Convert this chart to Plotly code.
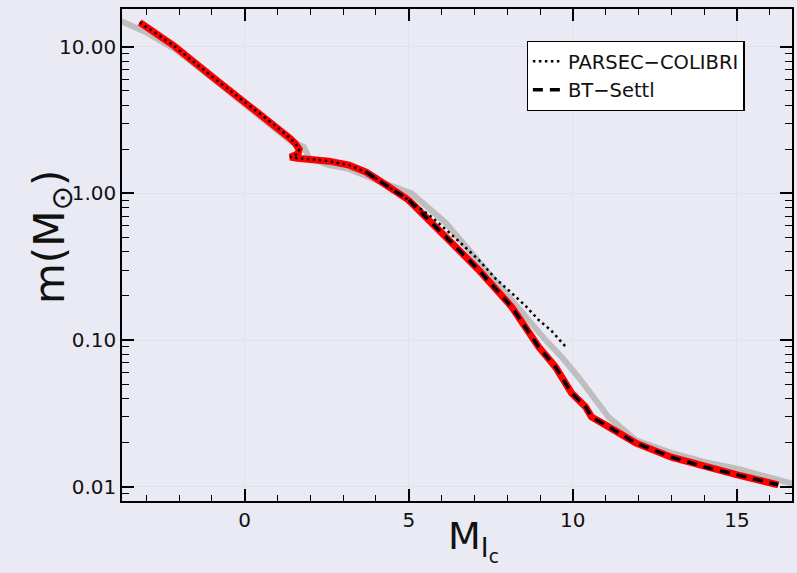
import plotly.graph_objects as go

# ---- data ----
# PARSEC-COLIBRI isochrone: absolute I_c magnitude vs mass (Msun)
parsec_mag = [-3.20, -2.14, -1.01, 0.14, 0.99, 1.39, 1.54, 1.66, 1.63, 1.39, 1.60, 2.02,
              2.57, 3.18, 3.70, 4.09, 5.00, 5.70, 6.45, 7.13, 7.65, 8.14, 8.56, 8.96, 9.35, 9.79]
parsec_mass = [14.7, 10.1, 6.3, 4.0, 2.83, 2.37, 2.19, 2.0, 1.87, 1.77, 1.74, 1.71,
               1.66, 1.56, 1.40, 1.23, 0.90, 0.69, 0.49, 0.352, 0.262, 0.209, 0.171, 0.137, 0.1156, 0.0897]

# BT-Settl isochrone
bt_mag = [3.70, 4.09, 5.00, 6.13, 7.13, 8.14, 8.75, 8.96, 9.47, 9.96, 10.39, 10.57,
          10.99, 11.91, 13.00, 14.04, 15.04, 16.26]
bt_mass = [1.40, 1.23, 0.90, 0.505, 0.301, 0.168, 0.105, 0.0897, 0.0656, 0.0436, 0.035, 0.0299,
           0.0264, 0.0199, 0.0159, 0.0136, 0.0120, 0.0103]

# grey comparison relation
ref_mag = [-4.00, -3.74, -2.96, -2.08, -1.01, 0.14, 1.36, 1.81, 1.96, 2.57, 3.18, 4.18, 5.09,
           6.13, 7.13, 8.14, 9.17, 9.66, 10.17, 10.69, 11.08, 11.91, 13.00, 14.04, 15.04, 16.68, 17.10]
ref_mass = [15.7, 14.9, 12.4, 9.5, 6.2, 3.87, 2.31, 2.07, 1.74, 1.56, 1.47, 1.19, 1.00,
            0.63, 0.35, 0.187, 0.100, 0.0766, 0.056, 0.039, 0.030, 0.0208, 0.0170, 0.0147, 0.0132, 0.0105, 0.0100]

# adopted (red) relation: PARSEC above the BT-Settl limit, BT-Settl below
bt_limit = bt_mag[0]
adopt_mag = [m for m in parsec_mag if m < bt_limit] + bt_mag
adopt_mass = [parsec_mass[i] for i, m in enumerate(parsec_mag) if m < bt_limit] + bt_mass

x_ticks = [0, 5, 10, 15]
x_minor = [v for v in range(-3, 17) if v % 5 != 0]
y_ticks = [0.01, 0.1, 1, 10]
y_ticktext = ["0.01", "0.10", "1.00", "10.00"]
y_minor = [d * k for d in (0.001, 0.01, 0.1, 1, 10) for k in range(2, 10)]

FONT = "DejaVu Sans"
BG = "#EAEAF5"
GRID = "#E1E1E8"

fig = go.Figure()
fig.add_trace(go.Scatter(x=ref_mag, y=ref_mass, mode="lines", showlegend=False,
                         line=dict(color="#BEBEBE", width=6)))
fig.add_trace(go.Scatter(x=adopt_mag, y=adopt_mass, mode="lines", showlegend=False,
                         line=dict(color="#FF0000", width=7)))
fig.add_trace(go.Scatter(x=parsec_mag, y=parsec_mass, mode="lines", name="PARSEC\u2212COLIBRI",
                         line=dict(color="black", width=2.5, dash="2.5px,3.5px")))
fig.add_trace(go.Scatter(x=bt_mag, y=bt_mass, mode="lines", name="BT\u2212Settl",
                         line=dict(color="black", width=3.5, dash="10px,7px")))

axis_common = dict(showline=True, linecolor="black", linewidth=1.6, mirror="ticks",
                   ticks="inside", tickwidth=1.5,
                   showgrid=True, gridcolor=GRID, gridwidth=1, zeroline=False,
                   tickfont=dict(family=FONT, size=20, color="#111111"))

fig.update_xaxes(range=[-3.74, 16.68], tickmode="array", tickvals=x_ticks, ticklen=12,
                 tickcolor="black",
                 minor=dict(tickmode="array", tickvals=x_minor, ticks="inside", ticklen=6,
                            tickcolor="black", tickwidth=1.3),
                 **axis_common)
fig.update_yaxes(type="log", range=[-2.0975, 1.258], tickmode="array", tickvals=y_ticks,
                 ticktext=y_ticktext, ticklen=12, tickcolor="black",
                 minor=dict(tickmode="array", tickvals=y_minor, ticks="inside", ticklen=7,
                            tickcolor="black", tickwidth=1.3),
                 **axis_common)

fig.update_layout(
    width=797, height=573,
    margin=dict(l=122, r=3, t=9, b=72),
    paper_bgcolor=BG, plot_bgcolor=BG,
    font=dict(family=FONT, color="#111111"),
    legend=dict(x=0.604, y=0.935, xanchor="left", yanchor="top",
                bgcolor="white", bordercolor="black", borderwidth=1.2,
                font=dict(family=FONT, size=19.5, color="#111111"),
                itemwidth=30, tracegroupgap=0),
    annotations=[
        dict(text="m(M<sub>\u2299</sub>)", xref="paper", yref="paper", x=-0.104, y=0.537,
             xanchor="center", yanchor="middle", textangle=-90, showarrow=False,
             font=dict(family=FONT, size=42, color="#111111")),
        dict(text="M<sub>I<sub>c</sub></sub>", xref="paper", yref="paper", x=0.525, y=-0.022,
             xanchor="center", yanchor="top", showarrow=False,
             font=dict(family=FONT, size=38, color="#111111")),
    ],
)

fig.write_html("out.html")
